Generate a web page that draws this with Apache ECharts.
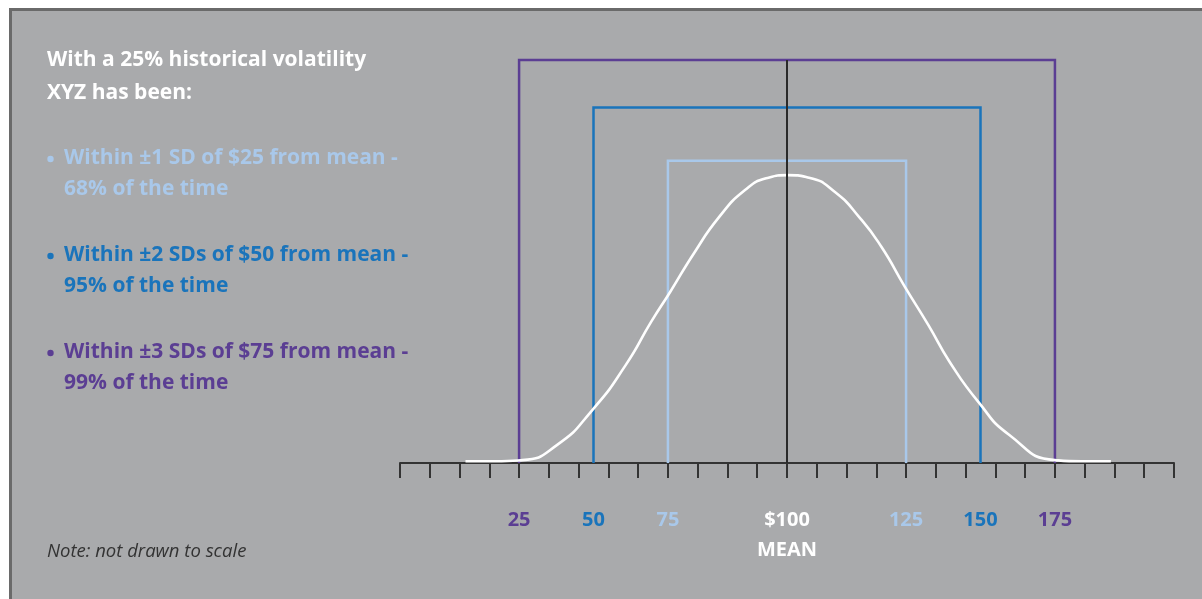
<!DOCTYPE html>
<html>
<head>
<meta charset="utf-8">
<script src="https://cdn.jsdelivr.net/npm/echarts@6/dist/echarts.min.js"></script>
<style>
  html, body { margin: 0; padding: 0; background: #ffffff; }
  #chart { width: 1202px; height: 599px; }
</style>
</head>
<body>
<div id="chart"></div>
<script>
// Price levels in dollars and their spot on the schematic (not to scale) axis
const priceLevels = [25, 50, 75, 100, 125, 150, 175];
const levelSpots = [4, 6.5, 9, 13, 17, 19.5, 22];

// Standard-deviation bands (1, 2, 3 SD) and the height of each bracket
const sdBands = [1, 2, 3];
const bandHeights = [105, 123.5, 140];

// Bell curve traced along the schematic axis (relative height, peak = 100)
const curveSpots = [2.2, 3.2, 4.11, 5.28, 6.46, 7.58, 8.44, 9.08, 9.87, 10.73, 11.59, 12.3, 13.03,
                    13.74, 14.6, 15.46, 16.17, 16.96, 17.75, 18.46, 19.42, 20.47, 22.0, 22.9, 23.88];
const curveHeights = [0.6, 0.6, 1.0, 6.3, 18.4, 34.0, 49.1, 59.5, 72.8, 85.6, 94.8, 98.9, 100,
                      99.1, 94.2, 85.0, 75.1, 61.2, 47.9, 35.2, 21.3, 9.7, 1.0, 0.6, 0.6];

// Schematic axis tick count
const tickCount = 26;

const COL = {
  bg: '#a9aaac',
  frame: '#6a6a6a',
  light: '#a9c8ea',
  blue: '#1a74bb',
  purple: '#5b3e93',
  white: '#ffffff',
  ink: '#2a2a2a'
};
const bandColors = [COL.light, COL.blue, COL.purple];
const levelStyle = ['p', 'b', 'l', 'w', 'l', 'b', 'p'];
const FONT = '"Open Sans", Lato, sans-serif';

const chart = echarts.init(document.getElementById('chart'), null, { renderer: 'canvas' });

const bandSeries = sdBands.map((k, i) => {
  const lo = levelSpots[3 - k], hi = levelSpots[3 + k], h = bandHeights[i];
  return {
    type: 'line',
    name: '±' + k + ' SD',
    data: [[lo, 0], [lo, h], [hi, h], [hi, 0]],
    symbol: 'none',
    clip: false,
    z: 2,
    lineStyle: { color: bandColors[i], width: 2.5, cap: 'butt', join: 'miter' },
    silent: true
  };
});

const curveSeries = {
  type: 'line',
  name: 'distribution',
  data: curveSpots.map((x, i) => [x, curveHeights[i]]),
  symbol: 'none',
  smooth: 0.55,
  clip: false,
  z: 3,
  lineStyle: { color: COL.white, width: 2.6 },
  silent: true
};

const meanSeries = {
  type: 'line',
  name: 'mean',
  data: [[levelSpots[3], 0], [levelSpots[3], bandHeights[2]]],
  symbol: 'none',
  clip: false,
  z: 4,
  lineStyle: { color: COL.ink, width: 2 },
  silent: true
};

function textEl(x, y, text, color, size) {
  return {
    type: 'text',
    x: x, y: y,
    silent: true,
    style: {
      text: text,
      fill: color,
      font: 'bold ' + size + 'px ' + FONT,
      verticalAlign: 'middle',
      textVerticalAlign: 'middle',
      align: 'left'
    }
  };
}

const bullets = [
  ['Within ±1 SD of $25 from mean -', '68% of the time', COL.light, 158],
  ['Within ±2 SDs of $50 from mean -', '95% of the time', COL.blue, 255],
  ['Within ±3 SDs of $75 from mean -', '99% of the time', COL.purple, 352]
];

const graphics = [
  {
    type: 'rect',
    silent: true,
    z: -10,
    shape: { x: 10.5, y: 9.5, width: 1300, height: 700 },
    style: { fill: COL.bg, stroke: COL.frame, lineWidth: 3 }
  },
  textEl(47, 60, 'With a 25% historical volatility', COL.white, 21),
  textEl(47, 93, 'XYZ has been:', COL.white, 21)
];
bullets.forEach(b => {
  graphics.push({
    type: 'circle', silent: true,
    shape: { cx: 50.5, cy: b[3] + 1, r: 3.2 },
    style: { fill: b[2] }
  });
  graphics.push(textEl(64, b[3], b[0], b[2], 21));
  graphics.push(textEl(64, b[3] + 31, b[1], b[2], 21));
});
graphics.push({
  type: 'text', x: 47, y: 552, silent: true,
  style: {
    text: 'Note: not drawn to scale',
    fill: '#333333',
    font: 'italic 18.5px ' + FONT,
    verticalAlign: 'middle', textVerticalAlign: 'middle'
  }
});

const richBase = { fontWeight: 'bold', fontSize: 20, fontFamily: FONT, lineHeight: 30 };

const option = {
  backgroundColor: '#ffffff',
  animation: false,
  graphic: graphics,
  grid: { left: 400, right: 28, top: 60, bottom: 136, containLabel: false },
  xAxis: {
    type: 'value',
    min: 0,
    max: tickCount,
    interval: 1,
    splitLine: { show: false },
    axisLine: { show: true, onZero: false, lineStyle: { color: '#333333', width: 2 } },
    axisTick: { show: true, length: 15, lineStyle: { color: '#333333', width: 2 } },
    axisLabel: {
      show: true,
      customValues: levelSpots,
      margin: 42,
      formatter: function (v) {
        const i = levelSpots.indexOf(v);
        if (i < 0) return '';
        const s = levelStyle[i];
        if (i === 3) return '{w|$' + priceLevels[i] + '}\n{w|MEAN}';
        return '{' + s + '|' + priceLevels[i] + '}';
      },
      rich: {
        p: Object.assign({ color: COL.purple }, richBase),
        b: Object.assign({ color: COL.blue }, richBase),
        l: Object.assign({ color: COL.light }, richBase),
        w: Object.assign({ color: COL.white }, richBase)
      }
    }
  },
  yAxis: {
    type: 'value',
    min: 0,
    max: 140,
    show: false,
    splitLine: { show: false }
  },
  series: bandSeries.concat([curveSeries, meanSeries])
};

chart.setOption(option);
</script>
</body>
</html>
